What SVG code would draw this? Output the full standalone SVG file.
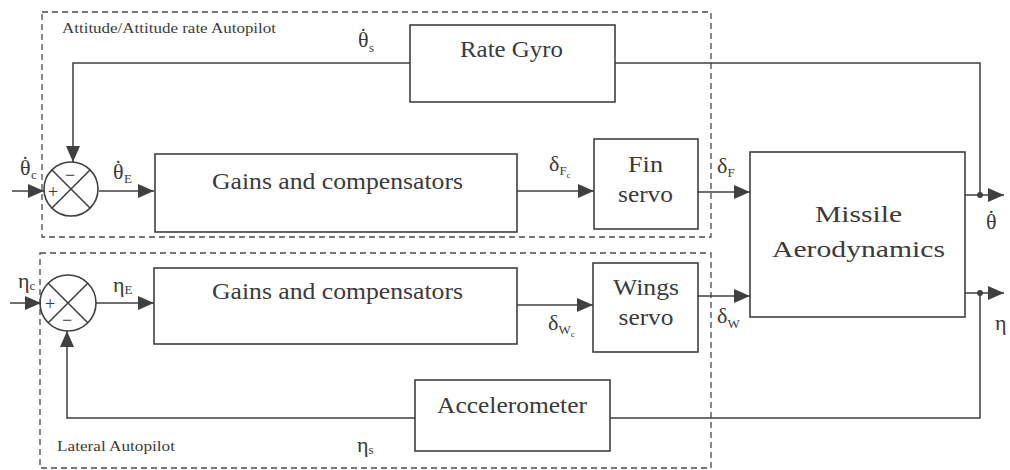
<svg xmlns="http://www.w3.org/2000/svg" width="1010" height="470" viewBox="0 0 1010 470">
<style>
.b{fill:none;stroke:#404040;stroke-width:1.6}
.l{fill:none;stroke:#404040;stroke-width:1.5}
.d{fill:none;stroke:#4a4a4a;stroke-width:1.3;stroke-dasharray:6 4}
.t{font-family:'Liberation Serif','Times New Roman',serif;fill:#3a3a3a}
.m{font-size:23px;text-anchor:middle}
.s{font-size:14px}
.g{font-size:22px}
.sub{font-size:13px}
</style>
<defs>
<marker id="ah" viewBox="0 0 16 14" refX="16" refY="7" markerWidth="16" markerHeight="14" markerUnits="userSpaceOnUse" orient="auto">
<path d="M0,0 L16,7 L0,14 z" fill="#404040"/>
</marker>
</defs>
<rect width="1010" height="470" fill="#ffffff"/>

<g id="attitude-autopilot-frame">
<rect class="d" x="42" y="12" width="669" height="225"/>
<text class="t s" x="62" y="33" textLength="214" lengthAdjust="spacingAndGlyphs">Attitude/Attitude rate Autopilot</text>
</g>
<g id="lateral-autopilot-frame">
<rect class="d" x="40" y="253" width="671" height="215"/>
<text class="t s" x="57" y="451" textLength="118" lengthAdjust="spacingAndGlyphs">Lateral Autopilot</text>
</g>

<g id="connectors">
<polyline class="l" points="410,63 73,63 73,162" marker-end="url(#ah)"/>
<polyline class="l" points="615,63 980,63 980,195"/>
<line class="l" x1="12" y1="191" x2="44" y2="191" marker-end="url(#ah)"/>
<line class="l" x1="99" y1="191" x2="154" y2="191" marker-end="url(#ah)"/>
<line class="l" x1="517" y1="191" x2="594" y2="191" marker-end="url(#ah)"/>
<line class="l" x1="698" y1="192" x2="750" y2="192" marker-end="url(#ah)"/>
<line class="l" x1="965" y1="195" x2="1004" y2="195" marker-end="url(#ah)"/>
<circle cx="980" cy="195" r="3" fill="#404040"/>
<line class="l" x1="10" y1="303" x2="41" y2="303" marker-end="url(#ah)"/>
<line class="l" x1="96" y1="303" x2="154" y2="303" marker-end="url(#ah)"/>
<line class="l" x1="517" y1="305" x2="593" y2="305" marker-end="url(#ah)"/>
<line class="l" x1="698" y1="296" x2="750" y2="296" marker-end="url(#ah)"/>
<line class="l" x1="965" y1="293" x2="1004" y2="293" marker-end="url(#ah)"/>
<circle cx="980" cy="293" r="3" fill="#404040"/>
<polyline class="l" points="980,293 980,418 610,418"/>
<polyline class="l" points="415,418 67,418 67,331" marker-end="url(#ah)"/>
</g>

<g id="sum-attitude">
<circle class="b" cx="71" cy="189" r="27"/>
<line class="b" x1="52" y1="170" x2="90" y2="208"/>
<line class="b" x1="90" y1="170" x2="52" y2="208"/>
<text class="t" x="48" y="198" font-size="18">+</text>
<text class="t" x="65" y="181" font-size="18">−</text>
</g>
<g id="sum-lateral">
<circle class="b" cx="68" cy="303" r="28"/>
<line class="b" x1="48" y1="283" x2="88" y2="323"/>
<line class="b" x1="88" y1="283" x2="48" y2="323"/>
<text class="t" x="45" y="310" font-size="18">+</text>
<text class="t" x="62" y="326" font-size="18">−</text>
</g>

<g id="rate-gyro">
<rect class="b" x="410" y="25" width="205" height="77"/>
<text class="t m" x="511.5" y="57" textLength="103" lengthAdjust="spacingAndGlyphs">Rate Gyro</text>
</g>
<g id="gains-attitude">
<rect class="b" x="155" y="154" width="362" height="78"/>
<text class="t m" x="337.5" y="189" textLength="251" lengthAdjust="spacingAndGlyphs">Gains and compensators</text>
</g>
<g id="fin-servo">
<rect class="b" x="594" y="139" width="104" height="90"/>
<text class="t m" x="645.5" y="172" textLength="35" lengthAdjust="spacingAndGlyphs">Fin</text>
<text class="t m" x="645.5" y="202" textLength="55" lengthAdjust="spacingAndGlyphs">servo</text>
</g>
<g id="missile-aerodynamics">
<rect class="b" x="750" y="152" width="215" height="165"/>
<text class="t m" x="858.5" y="222" font-size="28" textLength="87" lengthAdjust="spacingAndGlyphs">Missile</text>
<text class="t m" x="858.5" y="257" font-size="28" textLength="173" lengthAdjust="spacingAndGlyphs">Aerodynamics</text>
</g>
<g id="gains-lateral">
<rect class="b" x="154" y="268" width="363" height="76"/>
<text class="t m" x="337.5" y="299" textLength="251" lengthAdjust="spacingAndGlyphs">Gains and compensators</text>
</g>
<g id="wings-servo">
<rect class="b" x="593" y="263" width="105" height="89"/>
<text class="t m" x="646" y="295" textLength="66" lengthAdjust="spacingAndGlyphs">Wings</text>
<text class="t m" x="646" y="325" textLength="55" lengthAdjust="spacingAndGlyphs">servo</text>
</g>
<g id="accelerometer">
<rect class="b" x="415" y="380" width="195" height="71"/>
<text class="t m" x="512" y="413" textLength="150" lengthAdjust="spacingAndGlyphs">Accelerometer</text>
</g>

<g id="labels">
<text class="t g" x="20" y="175">θ<tspan dx="-9" dy="-4">˙</tspan><tspan class="sub" dx="2" dy="8">c</tspan></text>
<text class="t g" x="113" y="179">θ<tspan dx="-9" dy="-4">˙</tspan><tspan class="sub" dx="2" dy="8">E</tspan></text>
<text class="t g" x="358" y="47">θ<tspan dx="-9" dy="-4">˙</tspan><tspan class="sub" dx="2" dy="9">s</tspan></text>
<text class="t g" x="549" y="171">δ<tspan class="sub" dy="4">F</tspan><tspan font-size="9" dy="3">c</tspan></text>
<text class="t g" x="717" y="173">δ<tspan class="sub" dy="4">F</tspan></text>
<text class="t g" x="986" y="229">θ<tspan dx="-9" dy="-4">˙</tspan></text>
<text class="t g" x="18" y="288">η<tspan class="sub" dy="2">c</tspan></text>
<text class="t g" x="113" y="292">η<tspan class="sub" dy="2">E</tspan></text>
<text class="t g" x="548" y="330">δ<tspan class="sub" dy="4">W</tspan><tspan font-size="9" dy="3">c</tspan></text>
<text class="t g" x="717" y="323">δ<tspan class="sub" dy="5">W</tspan></text>
<text class="t g" x="995" y="330">η</text>
<text class="t g" x="357" y="452">η<tspan class="sub" dy="2">s</tspan></text>
</g>
</svg>
